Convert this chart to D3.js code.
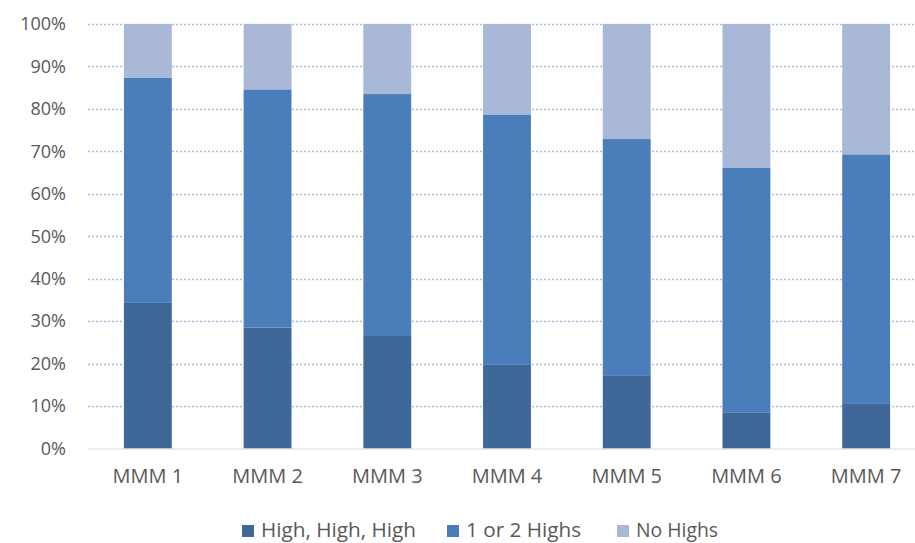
<!DOCTYPE html>
<html>
<head>
<meta charset="utf-8">
<script src="https://cdn.jsdelivr.net/npm/d3@7"></script>
<style>
  html, body { margin: 0; padding: 0; background: #fff; }
  svg { display: block; }
  text { font-family: "Open Sans", "Liberation Sans", sans-serif; fill: #595959; }
</style>
</head>
<body>
<svg id="chart" width="915" height="543"></svg>
<script>
// Share of respondents per group, in percent
const categories = ["MMM 1", "MMM 2", "MMM 3", "MMM 4", "MMM 5", "MMM 6", "MMM 7"];
const highHighHigh = [34.3, 28.5, 26.5, 19.7, 17.1, 8.4, 10.5];
const oneOrTwoHighs = [53.0, 56.1, 57.0, 59.0, 55.8, 57.8, 58.8];
const noHighs = [12.7, 15.4, 16.5, 21.3, 27.1, 33.8, 30.7];
const seriesNames = ["High, High, High", "1 or 2 Highs", "No Highs"];
const yTicks = [0, 10, 20, 30, 40, 50, 60, 70, 80, 90, 100];

const colors = ["#3f6899", "#4a7ebb", "#a9b8d7"];

const rows = categories.map((c, i) => ({
  cat: c,
  s0: highHighHigh[i],
  s1: oneOrTwoHighs[i],
  s2: noHighs[i]
}));

const svg = d3.select("#chart");
const margin = { left: 88, right: -11, top: 24, bottom: 94.5 };
const W = 915, H = 543;

const x = d3.scaleBand()
  .domain(categories)
  .range([margin.left, W - margin.right])
  .paddingInner(0.6)
  .paddingOuter(0.3);

const y = d3.scaleLinear()
  .domain([0, 100])
  .range([H - margin.bottom, margin.top]);

// dotted horizontal gridlines
svg.append("g")
  .selectAll("line")
  .data(yTicks.filter(t => t > 0))
  .join("line")
  .attr("x1", margin.left)
  .attr("x2", W)
  .attr("y1", d => Math.round(y(d)) + 0.5)
  .attr("y2", d => Math.round(y(d)) + 0.5)
  .attr("stroke", "#a7bde0")
  .attr("stroke-width", 1.3)
  .attr("stroke-dasharray", "2,2");

// stacked bars
const stack = d3.stack().keys(["s0", "s1", "s2"]);
const layers = stack(rows);

svg.append("g")
  .selectAll("g")
  .data(layers)
  .join("g")
  .attr("fill", (d, i) => colors[i])
  .selectAll("rect")
  .data(d => d)
  .join("rect")
  .attr("x", d => x(d.data.cat))
  .attr("width", x.bandwidth())
  .attr("y", d => y(d[1]))
  .attr("height", d => y(d[0]) - y(d[1]));

// baseline
svg.append("line")
  .attr("x1", margin.left)
  .attr("x2", W)
  .attr("y1", y(0) + 0.5)
  .attr("y2", y(0) + 0.5)
  .attr("stroke", "#d9d9d9")
  .attr("stroke-width", 1);

// y axis labels
const yAxis = d3.axisLeft(y)
  .tickValues(yTicks)
  .tickFormat(d => d + "%")
  .tickSize(0)
  .tickPadding(0);

const yg = svg.append("g")
  .attr("transform", `translate(66,0)`)
  .call(yAxis);
yg.select(".domain").remove();
yg.selectAll("text")
  .attr("font-size", 18)
  .attr("font-family", "\"Open Sans\", sans-serif")
  .attr("fill", "#595959");

// x axis labels
const xAxis = d3.axisBottom(x).tickSize(0).tickPadding(0);
const xg = svg.append("g")
  .attr("transform", `translate(0,${y(0) + 20})`)
  .call(xAxis);
xg.select(".domain").remove();
xg.selectAll("text")
  .attr("font-size", 20)
  .attr("font-family", "\"Open Sans\", sans-serif")
  .attr("fill", "#595959");

// legend
const legendX = [242, 447, 617];
const legend = svg.append("g")
  .selectAll("g")
  .data(seriesNames)
  .join("g")
  .attr("transform", (d, i) => `translate(${legendX[i]},525)`);
legend.append("rect")
  .attr("width", 12)
  .attr("height", 12)
  .attr("fill", (d, i) => colors[i]);
legend.append("text")
  .attr("x", 19)
  .attr("y", 5)
  .attr("dy", "0.36em")
  .attr("font-size", 19.5)
  .attr("textLength", (d, i) => [155, 115, 82][i])
  .attr("lengthAdjust", "spacingAndGlyphs")
  .text(d => d);
</script>
</body>
</html>
